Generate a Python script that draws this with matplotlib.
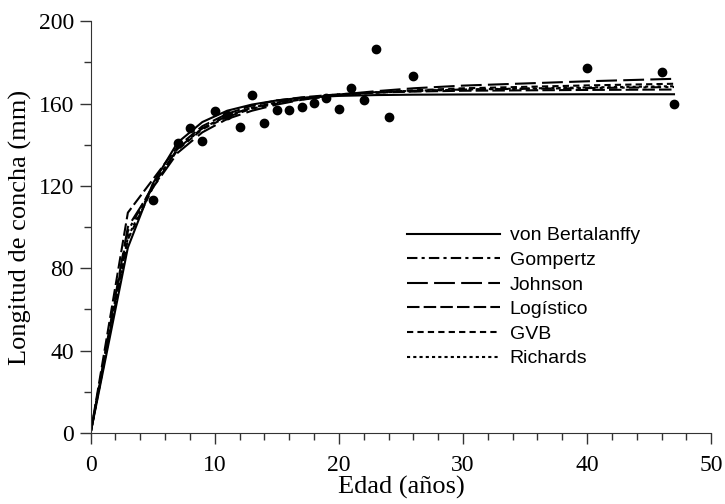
import matplotlib.pyplot as plt
from matplotlib.ticker import MultipleLocator

# observed shell length by age
edad_obs = [5, 7, 8, 9, 10, 11, 12, 13, 14, 15, 16, 17, 18, 19, 20, 21, 22, 23, 24, 26, 40, 46, 47]
long_obs = [113, 140.6, 148, 141.7, 156.2, 154.4, 148.7, 164.2, 150.6, 156.8, 156.8, 158.1,
            160.3, 162.6, 157.4, 167.6, 161.7, 186.3, 153.4, 173.3, 177.3, 175.4, 159.6]

# fitted growth curves
edad_fit = [0, 3, 5, 7, 9, 11, 13, 15, 17, 20, 23, 26, 30, 40, 47]
bertalanffy = [0, 90, 121, 141, 151, 156.5, 159.5, 161.5, 162.8, 163.7, 164.1, 164.3, 164.4, 164.5, 164.5]
gompertz = [0, 98, 120, 138, 148, 154, 158, 160.5, 162.5, 164.5, 165.5, 166.2, 166.8, 167.5, 168]
johnson = [0, 100, 119, 136, 146, 152.5, 156.5, 159.5, 161.8, 164.3, 166, 167.4, 168.7, 170.8, 172]
logistico = [0, 107, 123, 139, 149, 155, 159, 161.5, 163, 164.5, 165.3, 165.8, 166.2, 166.6, 166.8]
gvb = [0, 94, 119, 137.5, 147.5, 153.5, 157.5, 160, 162, 164, 165.4, 166.4, 167.4, 168.8, 169.6]
richards = [0, 95, 120, 138, 148, 154, 158, 160.5, 162.3, 164.2, 165.3, 166, 166.8, 167.8, 168.4]

fig = plt.figure(figsize=(7.25, 5.04), dpi=100)
ax = fig.add_axes([0.125, 0.141, 0.856, 0.817])

lw = 1.5
ax.plot(edad_fit, bertalanffy, color='black', lw=lw, linestyle='-', label='von Bertalanffy')
ax.plot(edad_fit, gompertz, color='black', lw=lw, linestyle=(0, (5, 2, 1.5, 2)), label='Gompertz')
ax.plot(edad_fit, johnson, color='black', lw=lw, linestyle=(0, (10, 3)), label='Johnson')
ax.plot(edad_fit, logistico, color='black', lw=lw, linestyle=(0, (6, 2)), label='Logístico')
ax.plot(edad_fit, gvb, color='black', lw=lw, linestyle=(0, (3, 2)), label='GVB')
ax.plot(edad_fit, richards, color='black', lw=lw, linestyle=(0, (1.5, 1.5)), label='Richards')
ax.plot(edad_obs, long_obs, 'o', color='black', markersize=6, zorder=5)

ax.set_xlim(0, 50)
ax.set_ylim(0, 200)
ax.xaxis.set_major_locator(MultipleLocator(10))
ax.xaxis.set_minor_locator(MultipleLocator(2))
ax.yaxis.set_major_locator(MultipleLocator(40))
ax.yaxis.set_minor_locator(MultipleLocator(20))
ax.tick_params(which='major', direction='out', length=8, width=1, labelsize=17)
ax.tick_params(which='minor', direction='out', length=5, width=1)
ax.tick_params(axis='x', which='major', pad=8)
ax.tick_params(axis='y', which='major', pad=4)
for lab in ax.get_xticklabels() + ax.get_yticklabels():
    lab.set_family('Liberation Serif')

ax.spines['top'].set_visible(False)
ax.spines['right'].set_visible(False)
for s in ['left', 'bottom']:
    ax.spines[s].set_color('#333333')
ax.tick_params(which='both', color='#333333')

ax.set_xlabel('Edad (años)', family='Liberation Serif', fontsize=19, labelpad=0)
ax.set_ylabel('Longitud de concha (mm)', family='Liberation Serif', fontsize=19, labelpad=5)

leg = ax.legend(loc='upper left', bbox_to_anchor=(0.561, 0.55), bbox_transform=fig.transFigure,
                frameon=False, borderpad=0, borderaxespad=0,
                prop={'family': 'Liberation Sans', 'size': 14},
                handlelength=4.8, handletextpad=0.5, labelspacing=0.36)

fig.savefig('out.png', dpi=100)
